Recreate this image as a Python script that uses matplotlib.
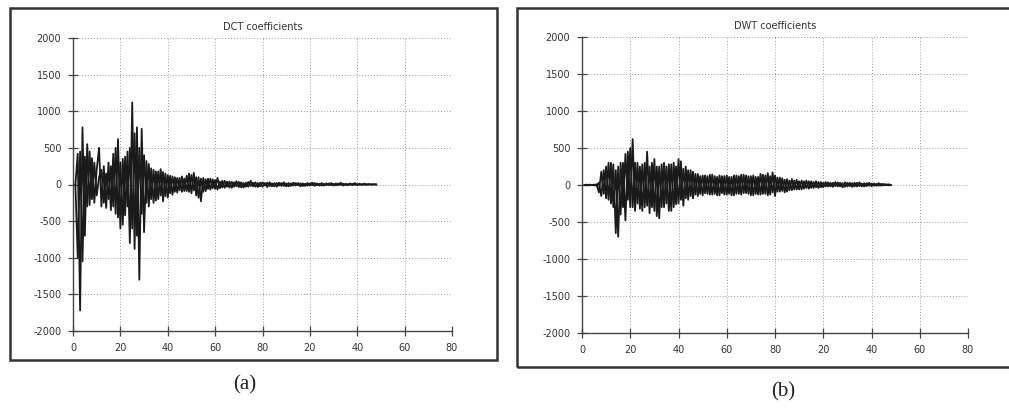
import numpy as np
import matplotlib
matplotlib.use("Agg")
import matplotlib.pyplot as plt
from matplotlib.patches import Rectangle

plt.rcParams['axes.unicode_minus'] = False

# DCT coefficients, two overlapping traces (index 1..128)
dct_a = [0, 420, -1720, 780, -700, 550, -280, 360, -250, 200,
         500, -300, 250, -320, 300, -350, 420, -400, 620, -600,
         350, -420, 450, -800, 1120, -880, 780, -1300, 760, -650,
         320, -300, 220, -250, 180, -200, 210, -230, 150, -180,
         120, -140, 100, -110, 90, -100, 80, -90, 150, -120,
         160, -150, 100, -230, 90, -90, 80, -70, 70, -60,
         90, -50, 50, -45, 40,
         -40, 35, -30, 45, -35, 30, -40, 25, -30, 50, -25, 30, -35, 25, -30,
         20, -35, 30, -25, 20, -30, 25, -20, 30, -25, 20, -20, 25, -15, 20,
         -25, 15, -20, 20, -15, 25, -20, 15, -15, 20, -15, 15, -10, 20, -15,
         15, -10, 25, -15, 10, -10, 15, -10, 20, -10, 10, -8, 12, -6, 8,
         -5, 5, 0]
dct_b = [0, -1000, 450, -1050, 380, -300, 450, -200, 300, -150,
         100, 200, -250, 150, -200, 250, -300, 500, -450, 300,
         -550, 380, -300, 500, -600, 700, -700, 500, -400, 400,
         -250, 280, -200, 200, -220, 180, -150, 170, -160, 130,
         -120, 110, -100, 90, -80, 110, -90, 120, -100, 130,
         -80, 100, -180, 80,
         -100, 70, -60, 80, -50, 60, -70, 40, -40, 50, -30, 40, -45, 30, -25,
         35, -40, 20, -30, 35, -20, 25, -30, 20, -25, 30, -15, 25, -20, 15,
         -25, 20, -15, 20, -20, 15, -25, 15, -15, 20, -10, 15, -20, 10, -15,
         15, -10, 20, -10, 10, -15, 10, -8, 15, -10, 8, -10, 12, -6, 10,
         -8, 6, -5, 8, -5, 6, -4, 5, -3, 4, -2, 3, -1, 0]

# DWT coefficients, two overlapping traces (index 1..128)
dwt_a = [0, 5, -5, 0, 5, -10,
         30, -150, 200, -180, 300, -250, 280, -650, 250, -400,
         300, -480, 450, -300, 620, -350, 300, -320, 280, -300,
         450, -380, 300, -350, 250, -450, 280, -300, 250, -350,
         280, -300, 250, -250, 320, -280, 250, -200, 200, -180,
         150, -150,
         120, -140, 130, -120, 140, -130, 120, -140, 130, -110,
         120, -130, 110, -140, 130, -120, 120, -130, 140, -110,
         120, -140, 130, -120, 110, -130, 140, -120, 160, -130, 170, -150,
         100, -90, 90, -100, 80, -70, 80, -60, 70, -60,
         60, -50, 60, -50, 50, -40, 50, -40, 40, -30,
         40, -20, 30, -25, 40, -20, 30, -30, 35, -20, 30, -25, 30, -20,
         35, -20, 25, -15, 30, -15, 20, -10, 25, -10, 15, -5, 10, 0]
dwt_b = [0, -5, 5, 0, -5, 10,
         -100, 180, -120, 250, -200, 300, -300, 200, -700, 300,
         -300, 420, -200, 500, -300, 300, -250, 250, -350, 300,
         -280, 250, -300, 350, -420, 250, -300, 300, -250, 280,
         -350, 300, -260, 350, -200, 220, -180, 200, -150, 180,
         -130, 150,
         -120, 130, -110, 120, -130, 140, -120, 110, -140, 120,
         -130, 130, -120, 110, -140, 130, -120, 140, -110, 130,
         -120, 120, -140, 110, -130, 150, -120, 130, -140, 120, -100, 130,
         -90, 100, -80, 70, -90, 60, -70, 60, -60, 50,
         -60, 50, -40, 50, -40, 40, -30, 40, -30, 30,
         -20, 35, -20, 30, -15, 35, -20, 25, -25, 30, -15, 25, -20, 30,
         -15, 20, -20, 25, -10, 20, -10, 15, -10, 15, -5, 10, -5, 0]

x_ticks = [0, 20, 40, 60, 80, 100, 120, 140, 160]
x_labels = ['0', '20', '40', '60', '80', '20', '40', '60', '80']
y_ticks = [-2000, -1500, -1000, -500, 0, 500, 1000, 1500, 2000]

fig = plt.figure(figsize=(10.09, 4.12), dpi=100)
W, H = 1009, 412


def box(x0, y0, x1, y1):
    # panel frame in pixel coords (top-left origin)
    fig.patches.append(Rectangle((x0 / W, 1 - y1 / H), (x1 - x0) / W, (y1 - y0) / H,
                                 transform=fig.transFigure, fill=False,
                                 edgecolor='#333333', linewidth=1.8))


def panel(rect, traces, title):
    ax = fig.add_axes(rect)
    for y in traces:
        ax.plot(np.arange(1, len(y) + 1), y, color='#1a1a1a', linewidth=1.3)
    ax.set_xlim(0, 160)
    ax.set_ylim(-2000, 2000)
    ax.set_xticks(x_ticks)
    ax.set_xticklabels(x_labels)
    ax.set_yticks(y_ticks)
    ax.grid(True, linestyle=(0, (1, 2)), color='#9a9a9a', linewidth=0.7)
    for s in ['top', 'right']:
        ax.spines[s].set_visible(False)
    for s in ['left', 'bottom']:
        ax.spines[s].set_color('#444444')
        ax.spines[s].set_linewidth(1.0)
    ax.tick_params(direction='inout', length=7, width=0.9, colors='#444444',
                   labelsize=7, labelcolor='#333333', pad=5)
    ax.set_title(title, fontsize=7, color='#333333', pad=6)
    return ax


box(10, 8, 497, 360)
box(517, 8, 1012, 367)

panel([73 / W, 1 - 331 / H, 379 / W, 293 / H], [dct_a, dct_b], 'DCT coefficients')
panel([582 / W, 1 - 333 / H, 386 / W, 296 / H], [dwt_a, dwt_b], 'DWT coefficients')

fig.text(245 / W, 1 - 385 / H, '(a)', ha='center', va='center',
         fontsize=15, family='Liberation Serif', color='#222222')
fig.text(783 / W, 1 - 392 / H, '(b)', ha='center', va='center',
         fontsize=15, family='Liberation Serif', color='#222222')

fig.savefig('out.png', dpi=100)
